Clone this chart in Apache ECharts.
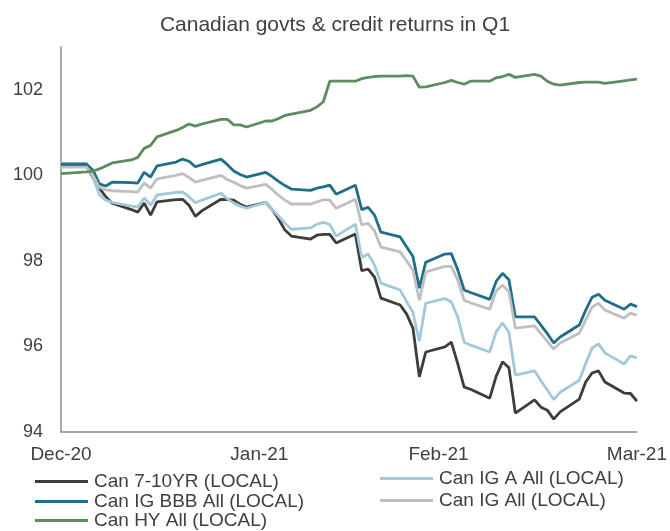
<!DOCTYPE html>
<html>
<head>
<meta charset="utf-8">
<script src="https://cdn.jsdelivr.net/npm/echarts@6/dist/echarts.min.js"></script>
<style>
  html, body { margin: 0; padding: 0; background: #fff; }
  #main { width: 670px; height: 531px; }
</style>
</head>
<body>
<div id="main"></div>
<script>
// business days of Q1 (plus the 31 Dec base)
var dates = [
  "2020-12-31",
  "2021-01-04", "2021-01-05", "2021-01-06", "2021-01-07", "2021-01-08",
  "2021-01-11", "2021-01-12", "2021-01-13", "2021-01-14", "2021-01-15",
  "2021-01-18", "2021-01-19", "2021-01-20", "2021-01-21", "2021-01-22",
  "2021-01-25", "2021-01-26", "2021-01-27", "2021-01-28", "2021-01-29",
  "2021-02-01", "2021-02-02", "2021-02-03", "2021-02-04", "2021-02-05",
  "2021-02-08", "2021-02-09", "2021-02-10", "2021-02-11", "2021-02-12",
  "2021-02-15", "2021-02-16", "2021-02-17", "2021-02-18", "2021-02-19",
  "2021-02-22", "2021-02-23", "2021-02-24", "2021-02-25", "2021-02-26",
  "2021-03-01", "2021-03-02", "2021-03-03", "2021-03-04", "2021-03-05",
  "2021-03-08", "2021-03-09", "2021-03-10", "2021-03-11", "2021-03-12",
  "2021-03-15", "2021-03-16", "2021-03-17", "2021-03-18", "2021-03-19",
  "2021-03-22", "2021-03-23", "2021-03-24", "2021-03-25", "2021-03-26",
  "2021-03-29", "2021-03-30", "2021-03-31"
];

var tickDates = ["2020-12-31", "2021-01-31", "2021-02-28", "2021-03-31"];
var tickLabels = ["Dec-20", "Jan-21", "Feb-21", "Mar-21"];

var gov710 = [
  100.21,
  100.21, 99.95, 99.70, 99.50, 99.35,
  99.20, 99.14, 99.35, 99.07, 99.38,
  99.43, 99.44, 99.30, 99.04, 99.17,
  99.44, 99.43, 99.42, 99.32, 99.26,
  99.37, 99.20, 98.98, 98.72, 98.58,
  98.51, 98.60, 98.62, 98.62, 98.42,
  98.63, 97.77, 97.81, 97.62, 97.13,
  96.97, 96.76, 96.43, 95.29, 95.87,
  95.99, 96.10, 95.60, 95.05, 95.00,
  94.79, 95.30, 95.64, 95.50, 94.44,
  94.75, 94.58, 94.51, 94.30, 94.47,
  94.77, 95.17, 95.38, 95.43, 95.17,
  94.91, 94.90, 94.72
];

var igA = [
  100.28,
  100.28, 99.95, 99.55, 99.42, 99.37,
  99.28, 99.26, 99.47, 99.30, 99.54,
  99.60, 99.61, 99.50, 99.36, 99.42,
  99.58, 99.45, 99.35, 99.28, 99.23,
  99.37, 99.20, 99.05, 98.88, 98.74,
  98.77, 98.86, 98.90, 98.85, 98.58,
  98.86, 98.08, 98.16, 97.90, 97.48,
  97.32, 97.05, 96.80, 96.12, 97.01,
  97.12, 97.04, 96.69, 96.10, 96.03,
  95.87, 96.34, 96.55, 96.33, 95.33,
  95.43, 95.20, 94.98, 94.76, 94.93,
  95.21, 95.60, 95.96, 96.06, 95.85,
  95.59, 95.78, 95.73
];

var igBBB = [
  100.26,
  100.26, 100.12, 99.80, 99.75, 99.84,
  99.83, 99.82, 100.07, 99.96, 100.22,
  100.31, 100.38, 100.33, 100.20, 100.25,
  100.38, 100.25, 100.10, 100.02, 99.96,
  100.07, 99.97, 99.86, 99.76, 99.68,
  99.65, 99.70, 99.73, 99.77, 99.56,
  99.77, 99.20, 99.25, 99.07, 98.67,
  98.56, 98.33, 98.10, 97.36, 97.97,
  98.16, 98.17, 97.79, 97.32, 97.26,
  97.10, 97.52, 97.71, 97.56, 96.69,
  96.69, 96.50, 96.30, 96.08, 96.22,
  96.50, 96.85, 97.15, 97.22, 97.08,
  96.87, 96.99, 96.93
];

var igAll = [
  100.19,
  100.19, 100.00, 99.72, 99.66, 99.64,
  99.62, 99.61, 99.82, 99.70, 99.92,
  100.00, 100.04, 99.95, 99.84, 99.88,
  100.00, 99.90, 99.84, 99.76, 99.70,
  99.79, 99.67, 99.53, 99.42, 99.33,
  99.33, 99.38, 99.43, 99.42, 99.23,
  99.44, 98.84, 98.88, 98.70, 98.32,
  98.21, 98.00, 97.78, 97.08, 97.74,
  97.87, 97.87, 97.55, 97.08, 97.02,
  96.87, 97.30, 97.43, 97.28, 96.43,
  96.48, 96.30, 96.12, 95.94, 96.08,
  96.31, 96.62, 96.92, 97.01, 96.85,
  96.66, 96.78, 96.73
];

var hyAll = [
  100.04,
  100.08, 100.10, 100.15, 100.22, 100.29,
  100.36, 100.42, 100.63, 100.70, 100.90,
  101.05, 101.12, 101.20, 101.15, 101.20,
  101.31, 101.31, 101.18, 101.18, 101.13,
  101.27, 101.27, 101.33, 101.40, 101.43,
  101.52, 101.60, 101.72, 102.20, 102.20,
  102.20, 102.26, 102.29, 102.31, 102.32,
  102.32, 102.33, 102.32, 102.06, 102.07,
  102.17, 102.22, 102.17, 102.13, 102.20,
  102.20, 102.28, 102.31, 102.36, 102.29,
  102.36, 102.32, 102.20, 102.13, 102.11,
  102.17, 102.18, 102.18, 102.18, 102.15,
  102.21, 102.23, 102.25
];

var names = [
  "Can 7-10YR (LOCAL)",
  "Can IG A All (LOCAL)",
  "Can IG BBB All (LOCAL)",
  "Can IG All (LOCAL)",
  "Can HY All (LOCAL)"
];
var colors = ["#3d3d3d", "#a2c8dc", "#1f6f8b", "#bfbfbf", "#5e8b60"];
var seriesVals = [gov710, igA, igBBB, igAll, hyAll];

var FONT = "Liberation Sans, Arial, sans-serif";
var TXT = "#404040";

// days since 31 Dec 2020
function dayNum(d) {
  return Math.round((new Date(d + "T00:00:00Z") - new Date("2020-12-31T00:00:00Z")) / 864e5);
}
var tickDays = tickDates.map(dayNum);

function buildSerie(i) {
  var data = [];
  for (var k = 0; k < dates.length; k++) {
    data.push([dayNum(dates[k]), seriesVals[i][k]]);
  }
  return {
    name: names[i],
    type: "line",
    data: data,
    symbol: "none",
    lineStyle: { color: colors[i], width: 2.8 },
    itemStyle: { color: colors[i] },
    animation: false
  };
}

var series = [];
for (var i = 0; i < names.length; i++) {
  series.push(buildSerie(i));
}

// one legend per entry, 2 columns x 3 rows like the source
var legendPos = [
  [35, 472],  // 7-10YR
  [380, 469], // IG A
  [35, 492],  // BBB
  [380, 491], // IG All
  [35, 511]   // HY
];
function buildLegend(i) {
  return {
    data: [names[i]],
    left: legendPos[i][0],
    top: legendPos[i][1],
    padding: 0,
    icon: "rect",
    itemWidth: 53,
    itemHeight: 3,
    textStyle: { color: TXT, fontSize: 19, fontFamily: FONT, padding: [0, 0, 0, 1] }
  };
}
var legends = [];
for (var j = 0; j < names.length; j++) {
  legends.push(buildLegend(j));
}

var myChart = echarts.init(document.getElementById("main"));
var option = {
  backgroundColor: "#fff",
  title: {
    text: "Canadian govts & credit returns in Q1",
    left: "center",
    top: 10,
    textStyle: { color: TXT, fontSize: 21, fontWeight: "normal", fontFamily: FONT }
  },
  legend: legends,
  grid: { left: 61, right: 30, top: 47, bottom: 99 },
  xAxis: {
    type: "value",
    min: 0,
    max: 90,
    splitLine: { show: false },
    axisTick: { show: false },
    axisLine: { lineStyle: { color: "#8c8c8c", width: 1.5 } },
    axisLabel: {
      customValues: tickDays,
      margin: 13,
      color: TXT,
      fontSize: 19,
      fontFamily: FONT,
      formatter: function (v) {
        var idx = tickDays.indexOf(v);
        return idx >= 0 ? tickLabels[idx] : "";
      }
    }
  },
  yAxis: {
    type: "value",
    min: 94,
    max: 103,
    interval: 2,
    splitLine: { show: false },
    axisTick: { show: false },
    axisLine: { show: true, lineStyle: { color: "#8c8c8c", width: 1.5 } },
    axisLabel: {
      showMaxLabel: false,
      margin: 18,
      color: TXT,
      fontSize: 18,
      fontFamily: FONT
    }
  },
  series: series
};
myChart.setOption(option);
</script>
</body>
</html>
